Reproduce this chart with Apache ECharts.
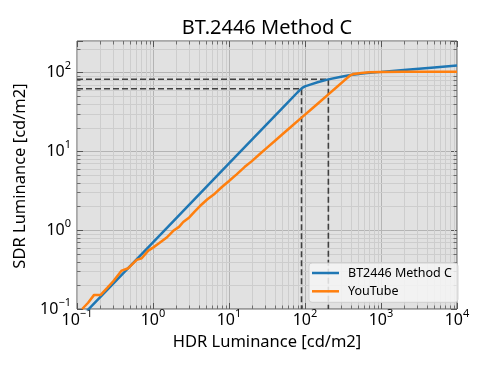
<!DOCTYPE html>
<html>
<head>
<meta charset="utf-8">
<script src="https://cdn.jsdelivr.net/npm/echarts@6/dist/echarts.min.js"></script>
<style>html,body{margin:0;padding:0;background:#fff}#c{width:500px;height:375px}</style>
</head>
<body>
<div id="c"></div>
<script>
// ---- data ----
const titleText = 'BT.2446 Method C';
const xName = 'HDR Luminance [cd/m2]';
const yName = 'SDR Luminance [cd/m2]';
const xTicks = [0.1, 1, 10, 100, 1000, 10000];
const yTicks = [0.1, 1, 10, 100];
const xMin = 0.1, xMax = 10000, yMin = 0.1, yMax = 250;

const bt2446Name = 'BT2446 Method C';
const bt2446HDR = [0.1, 1, 10, 60, 80, 86, 92, 100, 120, 150, 203, 300, 400, 600, 1000, 2000, 5000, 10000];
const bt2446SDR = [0.07, 0.7, 7, 42, 56, 60, 63.5, 66.5, 70.5, 75.5, 81.5, 88, 92.5, 97.5, 101.5, 107.5, 115.5, 122];

const ytName = 'YouTube';
const ytHDR = [0.117, 0.14, 0.168, 0.205, 0.25, 0.3, 0.387, 0.473, 0.61, 0.71, 0.867, 1.0, 1.2, 1.5, 1.85, 2.2, 2.5, 3.0, 3.5, 4.15, 5.2, 6.5, 8, 10, 12.6, 16, 20, 25, 32, 40, 50, 65, 90, 120, 160, 203, 260, 330, 400, 440, 550, 700, 1000, 2000, 10000];
const ytSDR = [0.1, 0.12, 0.151, 0.151, 0.185, 0.225, 0.307, 0.329, 0.42, 0.44, 0.55, 0.6, 0.68, 0.8, 0.98, 1.1, 1.27, 1.45, 1.7, 2.02, 2.46, 2.9, 3.5, 4.2, 5.1, 6.3, 7.5, 9.1, 11.2, 13.5, 16.3, 20.3, 26.7, 33.9, 43.1, 52.7, 64.8, 79.3, 92.5, 95.5, 98.5, 100.5, 101.5, 102, 102];

// reference (dashed) lines
const refHDR = [90, 203];
const refSDR = [62, 82];

// ---- chart ----
const FONT = 'Noto Sans';
const chart = echarts.init(document.getElementById('c'), null, {renderer: 'canvas'});

function isMajor(v, list) {
  return list.some(t => Math.abs(Math.log10(v) - Math.log10(t)) < 1e-6);
}
function expLabel(v, list) {
  if (!isMajor(v, list)) return '';
  const k = Math.round(Math.log10(v));
  return '{b|10}{s|' + (k < 0 ? '\u2212' + (-k) : k) + '}';
}
const richLabel = {
  b: {fontSize: 16, fontFamily: FONT, color: '#000', lineHeight: 16, verticalAlign: 'bottom'},
  s: {fontSize: 11, fontFamily: FONT, color: '#000', lineHeight: 11, verticalAlign: 'bottom', padding: [0, 0, 9, 0]}
};

function minorList(lo, hi) {
  const out = [];
  for (let e = Math.floor(Math.log10(lo)); e <= Math.ceil(Math.log10(hi)); e++) {
    for (let m = 2; m < 10; m++) {
      const v = m * Math.pow(10, e);
      if (v > lo && v < hi) out.push(v);
    }
  }
  return out;
}
const minorX = minorList(xMin, xMax);
const minorY = minorList(yMin, yMax);

const MAJOR_GRID = '#b4b4b4';
const MINOR_GRID = '#cdcdcd';
const SPINE = '#555555';
const TICK = '#555555';

function baseAxis(type, min, max, pos, showLabel, ticks) {
  return {
    type: 'log', logBase: 10, min: min, max: max, position: pos,
    axisLine: {show: false},
    axisTick: {show: true, inside: true, length: 6, lineStyle: {color: TICK, width: 1}},
    axisLabel: showLabel ? {
      show: true, margin: type === 'x' ? 3 : 6,
      formatter: v => expLabel(v, ticks), rich: richLabel
    } : {show: false},
    splitLine: {show: pos === 'bottom' || pos === 'left', lineStyle: {color: MAJOR_GRID, width: 1}},
    minorTick: {show: false}
  };
}

function minorXRender(params, api) {
  const cs = params.coordSys;
  const p = api.coord([api.value(0), 1]);
  const x = Math.round(p[0]) + 0.5;
  return {type: 'group', children: [
    {type: 'line', shape: {x1: x, y1: cs.y, x2: x, y2: cs.y + cs.height}, style: {stroke: MINOR_GRID, lineWidth: 1}},
    {type: 'line', shape: {x1: x, y1: cs.y + cs.height, x2: x, y2: cs.y + cs.height - 3.5}, style: {stroke: TICK, lineWidth: 0.8}},
    {type: 'line', shape: {x1: x, y1: cs.y, x2: x, y2: cs.y + 3.5}, style: {stroke: TICK, lineWidth: 0.8}}
  ]};
}
function minorYRender(params, api) {
  const cs = params.coordSys;
  const p = api.coord([1, api.value(1)]);
  const y = Math.round(p[1]) + 0.5;
  return {type: 'group', children: [
    {type: 'line', shape: {x1: cs.x, y1: y, x2: cs.x + cs.width, y2: y}, style: {stroke: MINOR_GRID, lineWidth: 1}},
    {type: 'line', shape: {x1: cs.x, y1: y, x2: cs.x + 3.5, y2: y}, style: {stroke: TICK, lineWidth: 0.8}},
    {type: 'line', shape: {x1: cs.x + cs.width, y1: y, x2: cs.x + cs.width - 3.5, y2: y}, style: {stroke: TICK, lineWidth: 0.8}}
  ]};
}

const dashStyle = {color: '#404040', width: 1.6, type: [6, 3]};
const refSeries = refHDR.map((hx, i) => ({
  type: 'line', xAxisIndex: 0, yAxisIndex: 0, z: 3, silent: true,
  showSymbol: false, symbol: 'none',
  data: [[xMin, refSDR[i]], [hx, refSDR[i]], [hx, yMin]],
  lineStyle: dashStyle
}));

const option = {
  backgroundColor: '#ffffff',
  animation: false,
  grid: {left: 77, right: 43, top: 41, bottom: 66, show: true, backgroundColor: '#e1e1e1', borderColor: SPINE, borderWidth: 1, z: 0},
  xAxis: [baseAxis('x', xMin, xMax, 'bottom', true, xTicks), baseAxis('x', xMin, xMax, 'top', false, xTicks)],
  yAxis: [baseAxis('y', yMin, yMax, 'left', true, yTicks), baseAxis('y', yMin, yMax, 'right', false, yTicks)],
  legend: {
    data: [bt2446Name, ytName],
    orient: 'vertical', left: 309, top: 263,
    icon: 'rect', itemWidth: 27, itemHeight: 2.5, itemGap: 4.3,
    padding: [3, 6, 4, 3],
    backgroundColor: 'rgba(245,245,245,0.85)', borderColor: '#cfcfcf', borderWidth: 1, borderRadius: 3,
    textStyle: {fontFamily: FONT, fontSize: 12.5, color: '#000', lineHeight: 14, padding: [0, 0, 0, 4]}
  },
  graphic: [
    {type: 'text', x: 267, y: 28, style: {text: titleText, font: '20px "Noto Sans"', fill: '#000', align: 'center', verticalAlign: 'middle'}},
    {type: 'text', x: 267, y: 342, style: {text: xName, font: '16.5px "Noto Sans"', fill: '#000', align: 'center', verticalAlign: 'middle'}},
    {type: 'text', x: 20.5, y: 176, rotation: Math.PI / 2, style: {text: yName, font: '16.5px "Noto Sans"', fill: '#000', align: 'center', verticalAlign: 'middle'}}
  ],
  series: [
    {type: 'custom', coordinateSystem: 'cartesian2d', xAxisIndex: 0, yAxisIndex: 0, z: 1, silent: true, clip: false,
      renderItem: minorXRender, data: minorX.map(v => [v, 1])},
    {type: 'custom', coordinateSystem: 'cartesian2d', xAxisIndex: 0, yAxisIndex: 0, z: 1, silent: true, clip: false,
      renderItem: minorYRender, data: minorY.map(v => [1, v])},
    ...refSeries,
    {name: bt2446Name, type: 'line', z: 4, showSymbol: false, symbol: 'none', clip: true,
      data: bt2446HDR.map((x, i) => [x, bt2446SDR[i]]),
      lineStyle: {color: '#1f77b4', width: 2.5}, itemStyle: {color: '#1f77b4'}},
    {name: ytName, type: 'line', z: 5, showSymbol: false, symbol: 'none', clip: true,
      data: ytHDR.map((x, i) => [x, ytSDR[i]]),
      lineStyle: {color: '#ff7f0e', width: 2.5}, itemStyle: {color: '#ff7f0e'}}
  ]
};
chart.setOption(option);
</script>
</body>
</html>
